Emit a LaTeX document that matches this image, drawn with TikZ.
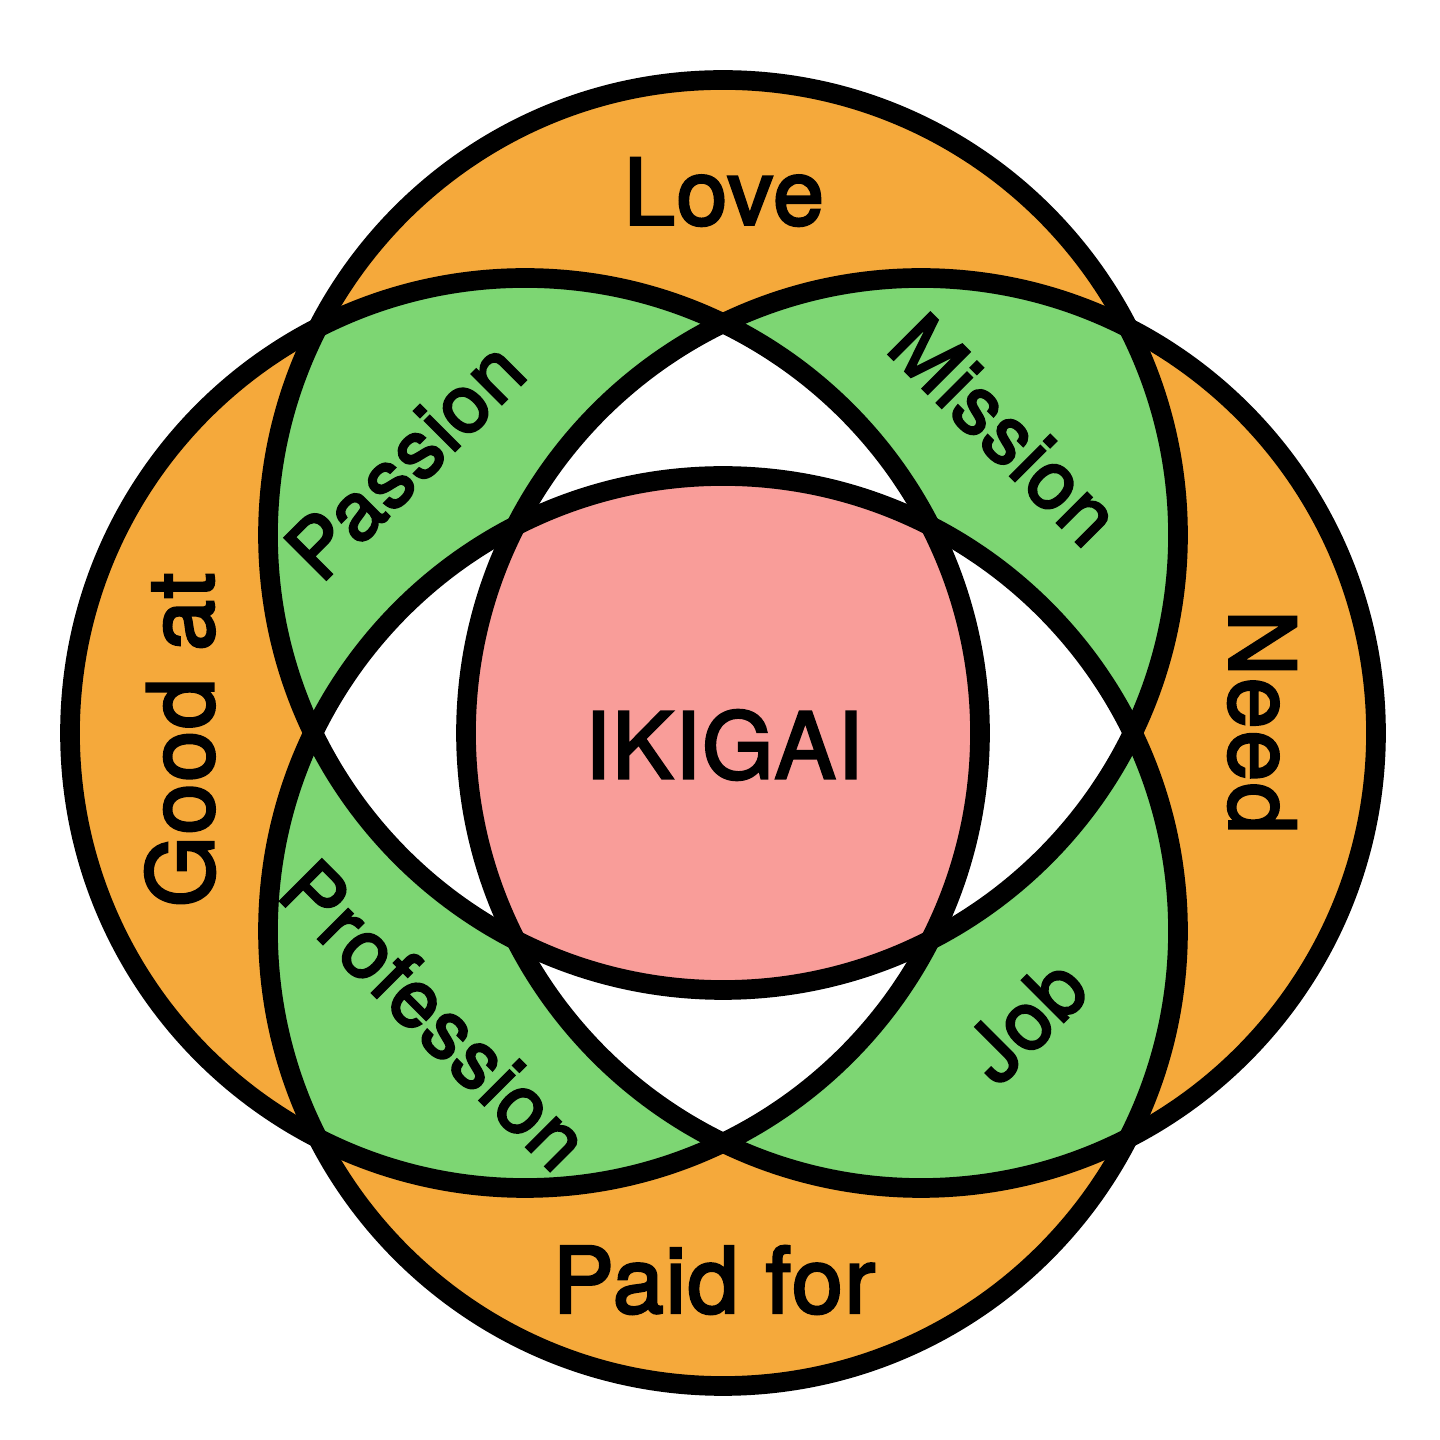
\documentclass[tikz,border=0pt]{standalone}
\usepackage{fontspec}
\setmainfont{TeX Gyre Heros}
\newfontfamily\labelfont{TeX Gyre Heros}[FakeBold=3,LetterSpace=2]
\definecolor{ringorange}{HTML}{F5A93B}
\definecolor{lensgreen}{HTML}{7DD673}
\definecolor{corepink}{HTML}{F99D99}
\begin{document}
\begin{tikzpicture}[
  ring/.style={line width=5.6pt},
  biglabel/.style={font=\labelfont\fontsize{26}{31}\selectfont,inner sep=0pt},
  smalllabel/.style={font=\labelfont\fontsize{23}{28}\selectfont,inner sep=0pt}]
  \useasboundingbox (0,0) rectangle (14.4,14.4);
  \def\rad{4.55}
  \coordinate (T) at (7.23,9.05);
  \coordinate (B) at (7.23,5.09);
  \coordinate (L) at (5.25,7.07);
  \coordinate (R) at (9.21,7.07);
  \fill[ringorange] (T) circle (\rad) (B) circle (\rad) (L) circle (\rad) (R) circle (\rad);
  \foreach \a/\b in {T/L,T/R,B/L,B/R}{
    \begin{scope}
      \clip (\a) circle (\rad);
      \fill[lensgreen] (\b) circle (\rad);
    \end{scope}}
  \foreach \a/\b in {T/B,L/R}{
    \begin{scope}
      \clip (\a) circle (\rad);
      \fill[white] (\b) circle (\rad);
    \end{scope}}
  \begin{scope}
    \clip (T) circle (\rad); \clip (B) circle (\rad); \clip (L) circle (\rad);
    \fill[corepink] (R) circle (\rad);
  \end{scope}
  \foreach \c in {T,B,L,R} \draw[ring] (\c) circle (\rad);
  \node[biglabel] (love) at (7.24,12.48) {Love};
  \node[biglabel] (paidfor) at (7.14,1.6) {Paid for};
  \node[biglabel,rotate=90] (goodat) at (1.8,7.0) {Good at};
  \node[biglabel,rotate=-90] (need) at (12.62,7.18) {Need};
  \node[biglabel] (ikigai) at (7.24,6.95) {IKIGAI};
  \node[smalllabel,rotate=45] (passion) at (4.05,9.8) {Passion};
  \node[smalllabel,rotate=-45] (mission) at (10.05,10.1) {Mission};
  \node[smalllabel,rotate=-45] (profession) at (4.35,4.25) {Profession};
  \node[smalllabel,rotate=45] (job) at (10.25,4.2) {Job};
\end{tikzpicture}
\end{document}
